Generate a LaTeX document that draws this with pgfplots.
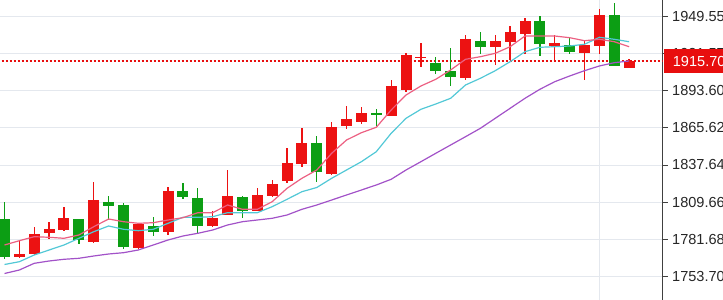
\documentclass[border=0pt]{standalone}
\usepackage{pgfplots}
\pgfplotsset{compat=1.18}
\usepackage{pgfplotstable}
\usepackage{fontspec}
\setmainfont{Liberation Sans}
\definecolor{cRed}{RGB}{236,18,18}
\definecolor{cGreen}{RGB}{12,158,20}
\definecolor{maPink}{RGB}{236,96,130}
\definecolor{maCyan}{RGB}{82,200,214}
\definecolor{maPurple}{RGB}{162,82,200}
\definecolor{gridc}{RGB}{228,232,238}
\definecolor{lblRed}{RGB}{232,14,14}

% up candles (close > open), columns: index open high low close
\pgfplotstableread{
i  o      h      l      c
1  1768.3 1781.3 1767.5 1771.0
2  1770.5 1790.8 1769.8 1786.0
3  1786.3 1795.0 1781.8 1789.3
4  1788.8 1806.3 1788.0 1797.6
6  1779.8 1824.8 1779.0 1811.3
9  1775.0 1793.3 1774.3 1793.1
11 1787.1 1820.9 1785.0 1818.1
14 1791.8 1803.1 1791.3 1798.0
15 1800.1 1833.9 1800.0 1814.3
17 1803.3 1820.6 1803.0 1815.1
18 1814.6 1826.3 1813.8 1823.3
19 1825.6 1850.2 1824.3 1839.3
20 1838.1 1865.2 1836.3 1854.4
22 1830.6 1870.1 1830.0 1866.4
23 1866.9 1881.9 1864.4 1871.9
24 1870.1 1881.0 1868.4 1876.9
26 1874.7 1901.5 1874.2 1897.0
27 1894.0 1922.1 1892.7 1920.5
28 1918.0 1929.3 1911.2 1919.1
31 1903.0 1935.3 1901.5 1932.3
33 1926.0 1935.3 1912.7 1931.0
34 1929.8 1942.3 1916.5 1937.3
35 1936.0 1947.8 1921.0 1945.8
37 1927.2 1935.3 1916.5 1929.0
39 1922.0 1931.0 1901.5 1927.8
40 1927.2 1954.6 1921.0 1950.3
42 1910.7 1917.0 1910.7 1915.7
}\up

% down candles (close < open)
\pgfplotstableread{
i  o      h      l      c
0  1796.8 1810.0 1766.8 1768.7
5  1796.8 1797.3 1778.3 1781.3
7  1810.0 1814.3 1796.3 1806.8
8  1807.6 1808.8 1774.3 1775.8
10 1791.8 1798.8 1784.3 1787.1
12 1818.1 1824.3 1812.1 1813.8
13 1812.8 1820.6 1785.6 1791.8
16 1813.8 1814.6 1797.6 1803.3
21 1854.4 1859.4 1825.1 1832.1
25 1876.5 1879.5 1866.9 1875.2
29 1914.5 1919.0 1906.0 1908.2
30 1908.2 1925.7 1897.0 1903.5
32 1931.0 1937.3 1921.2 1926.0
36 1946.0 1949.6 1919.5 1928.5
38 1927.8 1934.0 1920.8 1922.3
41 1950.3 1959.5 1912.2 1912.2
}\down

% moving averages
\pgfplotstableread{
i  ma5     ma10    ma20
0  1777.51 1762.86 1756.10
1  1780.74 1764.96 1758.73
2  1783.75 1770.00 1763.76
3  1783.30 1773.75 1765.49
4  1782.54 1777.51 1766.77
5  1785.02 1782.54 1767.52
6  1791.26 1787.50 1769.25
7  1797.04 1791.79 1770.75
8  1795.02 1789.31 1771.73
9  1793.81 1788.25 1773.75
10 1794.26 1789.31 1777.51
11 1796.29 1793.81 1781.27
12 1798.02 1798.32 1784.27
13 1801.78 1798.32 1786.30
14 1801.78 1798.77 1788.78
15 1807.56 1801.78 1792.54
16 1804.33 1801.78 1795.02
17 1804.33 1801.78 1796.29
18 1810.04 1806.29 1797.57
19 1820.11 1811.84 1800.05
20 1827.62 1817.55 1804.33
21 1833.86 1820.71 1807.56
22 1846.40 1827.62 1811.32
23 1856.39 1833.86 1815.07
24 1861.88 1840.09 1818.83
25 1865.93 1847.60 1822.59
26 1878.93 1861.43 1826.87
27 1890.20 1872.70 1833.86
28 1896.96 1879.46 1840.09
29 1902.00 1883.44 1846.40
30 1908.98 1887.72 1852.64
31 1917.02 1897.71 1858.87
32 1918.97 1902.75 1865.18
33 1921.53 1908.46 1872.70
34 1926.49 1915.22 1880.21
35 1934.52 1922.73 1887.72
36 1934.52 1926.04 1894.48
37 1934.52 1926.49 1900.19
38 1933.25 1927.01 1904.47
39 1930.99 1928.29 1908.46
40 1932.05 1933.55 1911.99
41 1930.24 1932.05 1914.47
42 1926.49 1930.24 1915.74
}\ma

\begin{document}
\begin{tikzpicture}
\begin{axis}[
  at={(0,0)}, anchor=south west,
  width=662.7bp, height=300bp, scale only axis,
  xmin=-0.303, xmax=44.26, ymin=1736.19, ymax=1961.57,
  axis x line=bottom, axis y line=right,
  x axis line style={draw=none},
  y axis line style={-, draw=black!75, line width=0.8bp},
  xtick={40}, xticklabels={}, xmajorgrids,
  x tick style={draw=none},
  ytick={1753.70,1781.68,1809.66,1837.64,1865.62,1893.60,1921.57,1949.55},
  yticklabels={1753.70,1781.68,1809.66,1837.64,1865.62,1893.60,1921.57,1949.55},
  ymajorgrids,
  grid style={draw=gridc, line width=0.9bp},
  tick align=outside, major tick length=5bp,
  y tick style={draw=black!75, line width=0.8bp},
  yticklabel style={font=\fontsize{14.6}{16}\selectfont, text=black!85, anchor=west, inner sep=0pt, xshift=4.3bp},
]
% current price line
\addplot [lblRed, line width=1.4bp, dash pattern=on 2bp off 2bp] coordinates {(-1,1915.70) (45,1915.70)};

% wicks
\addplot [draw=none, mark=none, forget plot, error bars/.cd, y dir=both, y explicit, error mark=none,
  error bar style={draw=cRed, solid, line width=1.3bp}]
  table [x=i, y expr={(\thisrow{h}+\thisrow{l})/2}, y error expr={(\thisrow{h}-\thisrow{l})/2}] {\up};
\addplot [draw=none, mark=none, forget plot, error bars/.cd, y dir=both, y explicit, error mark=none,
  error bar style={draw=cGreen, solid, line width=1.3bp}]
  table [x=i, y expr={(\thisrow{h}+\thisrow{l})/2}, y error expr={(\thisrow{h}-\thisrow{l})/2}] {\down};
% bodies
\addplot [draw=none, mark=none, forget plot, error bars/.cd, y dir=both, y explicit, error mark=none,
  error bar style={draw=cRed, solid, line width=11bp}]
  table [x=i, y expr={(\thisrow{o}+\thisrow{c})/2}, y error expr={abs(\thisrow{c}-\thisrow{o})/2}] {\up};
\addplot [draw=none, mark=none, forget plot, error bars/.cd, y dir=both, y explicit, error mark=none,
  error bar style={draw=cGreen, solid, line width=11bp}]
  table [x=i, y expr={(\thisrow{o}+\thisrow{c})/2}, y error expr={abs(\thisrow{c}-\thisrow{o})/2}] {\down};

% moving averages
\addplot [maPurple, line width=1.2bp] table [x=i, y=ma20] {\ma};
\addplot [maCyan, line width=1.2bp] table [x=i, y=ma10] {\ma};
\addplot [maPink, line width=1.2bp] table [x=i, y=ma5] {\ma};

\coordinate (pl) at (axis cs:44.26,1915.70);
\end{axis}
\node [fill=lblRed, text=white, anchor=west, inner ysep=0pt, inner xsep=0pt, minimum height=23.4bp,
  text width=80bp, align=left, xshift=1.3bp, font=\fontsize{14.6}{16}\selectfont] at (pl) {\hspace*{8.7bp}1915.70};
\pgfresetboundingbox
\useasboundingbox (0,0) rectangle (723bp,300bp);
\end{tikzpicture}
\end{document}
